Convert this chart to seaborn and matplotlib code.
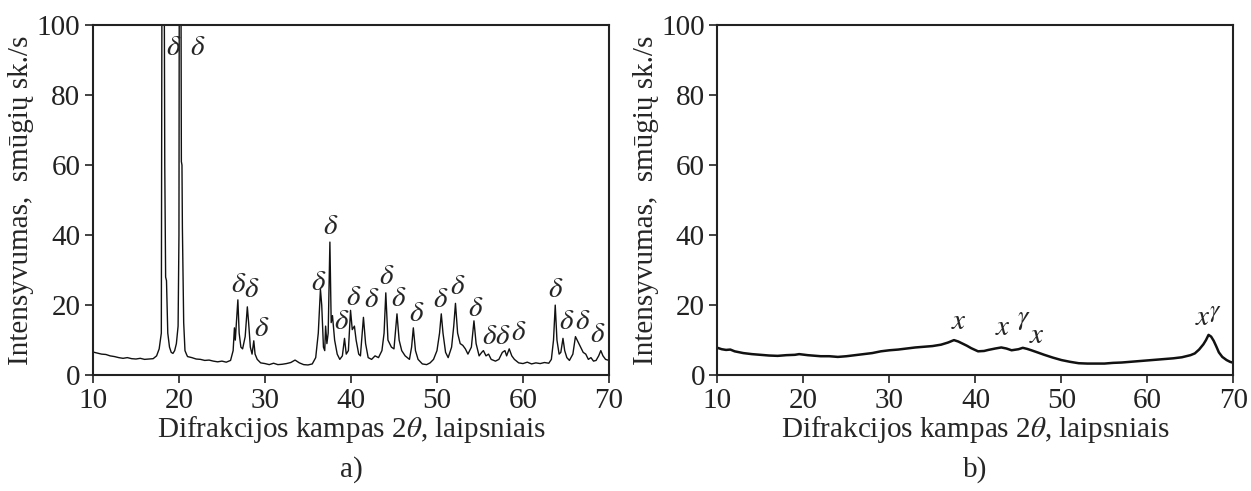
import matplotlib
matplotlib.use("Agg")
import matplotlib.pyplot as plt
import seaborn as sns

# a) difraktograma: kampas 2theta ir intensyvumas (nuskaityta nuo paveikslo)
left_2theta = [
    10.0, 10.5, 11.0, 11.5, 12.0, 12.5, 13.0, 13.5, 14.0, 14.5, 15.0, 15.5, 16.0, 16.5,
    17.0, 17.4, 17.7, 17.95, 18.05, 18.15, 18.28, 18.35, 18.45, 18.55, 18.7, 18.9, 19.1,
    19.3, 19.5, 19.7, 19.9, 20.0, 20.08, 20.2, 20.28, 20.35, 20.4, 20.55, 20.7, 20.9,
    21.0, 21.5, 22.0, 22.5, 23.0, 23.5, 24.0, 24.5, 25.0, 25.5, 26.0, 26.3, 26.45, 26.55,
    26.65, 26.85, 27.0, 27.2, 27.4, 27.7, 27.95, 28.1, 28.3, 28.5, 28.7, 28.85, 29.1,
    29.5, 30.0, 30.5, 31.0, 31.5, 32.0, 32.5, 33.0, 33.5, 34.0, 34.5, 35.0, 35.5, 35.9,
    36.2, 36.45, 36.6, 36.8, 36.95, 37.05, 37.2, 37.35, 37.55, 37.7, 37.85, 38.1, 38.4,
    38.7, 39.0, 39.25, 39.45, 39.7, 39.95, 40.15, 40.4, 40.6, 40.9, 41.1, 41.45, 41.7,
    42.0, 42.4, 42.8, 43.2, 43.6, 43.85, 44.05, 44.3, 44.7, 45.0, 45.35, 45.6, 45.9,
    46.3, 46.8, 47.05, 47.25, 47.5, 47.8, 48.3, 48.8, 49.2, 49.6, 50.0, 50.3, 50.5,
    50.7, 51.0, 51.3, 51.7, 51.95, 52.15, 52.4, 52.7, 53.0, 53.3, 53.6, 54.0, 54.3,
    54.55, 54.9, 55.2, 55.4, 55.7, 56.0, 56.3, 56.8, 57.2, 57.6, 57.9, 58.1, 58.4,
    58.7, 59.0, 59.5, 60.0, 60.5, 61.0, 61.5, 62.0, 62.5, 63.0, 63.3, 63.55, 63.75,
    63.95, 64.2, 64.4, 64.65, 64.85, 65.1, 65.4, 65.8, 66.1, 66.4, 66.7, 67.0, 67.3,
    67.6, 67.9, 68.2, 68.5, 68.8, 69.05, 69.3, 69.6, 70.0,
]
left_counts = [
    6.6, 6.3, 6.0, 5.9, 5.5, 5.3, 5.0, 4.8, 5.0, 4.7, 4.6, 4.8, 4.5, 4.6,
    4.7, 5.5, 7.5, 12.0, 150.0, 260.0, 120.0, 60.0, 28.0, 27.0, 12.0, 8.0, 6.5,
    6.2, 7.0, 9.0, 14.0, 40.0, 200.0, 150.0, 61.0, 60.0, 42.0, 15.0, 7.0, 5.8,
    5.3, 5.0, 4.6, 4.5, 4.2, 4.3, 4.0, 3.8, 4.0, 3.7, 4.2, 7.0, 13.5, 10.0,
    14.0, 21.5, 12.0, 8.0, 7.5, 11.0, 19.5, 15.0, 8.0, 6.0, 9.8, 6.0, 4.5,
    3.5, 3.3, 3.0, 3.4, 3.0, 3.1, 3.3, 3.6, 4.3, 3.5, 3.0, 2.9, 3.2, 5.0,
    12.0, 24.5, 20.0, 8.0, 7.0, 14.0, 9.0, 12.0, 38.0, 15.0, 17.0, 10.0, 6.0,
    4.5, 5.5, 10.5, 6.0, 7.0, 18.5, 13.0, 14.0, 10.0, 6.0, 5.5, 16.5, 9.0,
    5.0, 4.5, 5.5, 5.0, 7.0, 12.0, 23.5, 10.0, 8.0, 7.5, 17.5, 10.0, 7.0,
    5.5, 4.5, 8.0, 13.5, 7.0, 4.5, 3.2, 3.0, 3.5, 4.5, 7.0, 12.0, 17.5,
    12.0, 6.5, 5.0, 8.0, 14.0, 20.5, 12.0, 9.0, 8.5, 7.5, 6.0, 8.0, 15.5,
    9.0, 5.5, 6.5, 7.0, 5.5, 6.0, 4.5, 4.0, 4.5, 6.5, 7.0, 5.5, 7.5,
    5.5, 4.5, 3.5, 3.3, 3.7, 3.2, 3.5, 3.3, 3.6, 3.4, 4.5, 10.0, 20.0,
    10.0, 6.0, 6.5, 10.5, 7.0, 5.0, 4.2, 6.0, 11.0, 9.5, 8.0, 6.5, 6.0,
    4.5, 5.0, 4.0, 4.2, 5.5, 7.0, 5.5, 4.5, 4.2,
]

# a) pikų žymės (delta fazė)
left_peak_x = [19.4, 22.2, 26.95, 28.5, 29.6, 36.3, 37.6, 38.9, 40.3, 42.4, 44.2, 45.5,
               47.7, 50.4, 52.4, 54.5, 56.1, 57.7, 59.5, 63.75, 65.05, 66.9, 68.7]
left_peak_y = [93.5, 93.5, 25.7, 24.3, 13.3, 26.2, 42.4, 15.2, 21.9, 21.4, 28.1, 21.7,
               17.6, 21.4, 25.2, 19.0, 11.0, 11.0, 11.9, 24.3, 15.2, 15.2, 11.4]
left_peak_lbl = ["δ"] * len(left_peak_x)

# b) difraktograma
right_2theta = [
    10.0, 10.5, 11.0, 11.5, 12.0, 13.0, 14.0, 15.0, 16.0, 17.0, 18.0, 19.0, 19.5, 20.5,
    21.5, 22.0, 23.0, 24.0, 25.0, 26.0, 27.0, 28.0, 29.0, 30.0, 31.0, 32.0, 33.0, 34.0,
    35.0, 36.0, 36.8, 37.5, 38.0, 38.5, 39.0, 39.5, 40.3, 41.0, 41.5, 42.3, 43.0, 43.6,
    44.2, 45.0, 45.5, 46.0, 46.5, 47.2, 48.0, 49.0, 50.0, 51.0, 52.0, 53.0, 54.0, 55.0,
    56.0, 57.0, 58.0, 59.0, 60.0, 61.0, 62.0, 63.0, 64.0, 65.0, 65.5, 66.0, 66.5, 66.8,
    67.1, 67.4, 67.7, 68.0, 68.3, 68.7, 69.2, 69.6, 70.0,
]
right_counts = [
    7.8, 7.4, 7.2, 7.3, 6.8, 6.3, 6.0, 5.8, 5.6, 5.5, 5.7, 5.8, 6.0, 5.7,
    5.5, 5.4, 5.4, 5.2, 5.4, 5.7, 6.0, 6.3, 6.8, 7.1, 7.3, 7.6, 7.9, 8.1,
    8.3, 8.7, 9.3, 10.0, 9.6, 9.0, 8.4, 7.7, 6.8, 6.9, 7.2, 7.6, 7.9, 7.6,
    7.1, 7.4, 7.8, 7.5, 7.1, 6.5, 5.8, 5.0, 4.3, 3.8, 3.4, 3.3, 3.3, 3.3,
    3.5, 3.6, 3.8, 4.0, 4.2, 4.4, 4.6, 4.8, 5.1, 5.7, 6.2, 7.3, 8.8, 10.0,
    11.5, 11.0, 9.8, 8.2, 6.5, 5.2, 4.3, 3.8, 3.5,
]

# b) pikų žymės
right_peak_x = [38.1, 43.2, 45.6, 47.1, 66.4, 67.9]
right_peak_y = [15.3, 13.4, 15.6, 11.3, 16.3, 17.6]
right_peak_lbl = ["x", "x", "γ", "x", "x", "γ"]
right_peak_size = [21, 21, 19, 21, 21, 17]

x_ticks = [10, 20, 30, 40, 50, 60, 70]
y_ticks = [0, 20, 40, 60, 80, 100]
x_label = "Difrakcijos kampas 2$\\theta$, laipsniais"
y_label = "Intensyvumas,  smūgių sk./s"
captions = ["a)", "b)"]

sns.set_style("ticks")
plt.rcParams["font.family"] = ["Liberation Serif", "DejaVu Serif"]
plt.rcParams["mathtext.fontset"] = "stix"

fig = plt.figure(figsize=(12.51, 4.91), dpi=100)
ax_a = fig.add_axes([0.0743, 0.236, 0.4125, 0.713])
ax_b = fig.add_axes([0.5735, 0.236, 0.4125, 0.713])

sns.lineplot(x=left_2theta, y=left_counts, ax=ax_a, color="#111111", linewidth=1.0)
sns.lineplot(x=right_2theta, y=right_counts, ax=ax_b, color="#111111", linewidth=1.8)

sym = {"δ": "$\\delta$", "γ": "$\\gamma$", "x": "$x$"}
for xx, yy, tt in zip(left_peak_x, left_peak_y, left_peak_lbl):
    ax_a.text(xx, yy, sym[tt], ha="center", va="center", fontsize=21, clip_on=False)
for xx, yy, tt, fs in zip(right_peak_x, right_peak_y, right_peak_lbl, right_peak_size):
    ax_b.text(xx, yy, sym[tt], ha="center", va="center", fontsize=fs, clip_on=False)

for ax, cap in zip([ax_a, ax_b], captions):
    ax.set_xlim(10, 70)
    ax.set_ylim(0, 100)
    ax.set_xticks(x_ticks)
    ax.set_yticks(y_ticks)
    ax.set_xlabel(x_label, fontsize=21, labelpad=0)
    ax.set_ylabel(y_label, fontsize=21, labelpad=2)
    ax.tick_params(direction="out", length=6, width=1.2, labelsize=21, pad=3,
                   colors="#222222")
    for sp in ax.spines.values():
        sp.set_linewidth(1.5)
        sp.set_color("#222222")
    pos = ax.get_position()
    fig.text(pos.x0 + pos.width / 2, 0.043, cap, ha="center", va="center", fontsize=21)

plt.savefig("out.png", dpi=100)
